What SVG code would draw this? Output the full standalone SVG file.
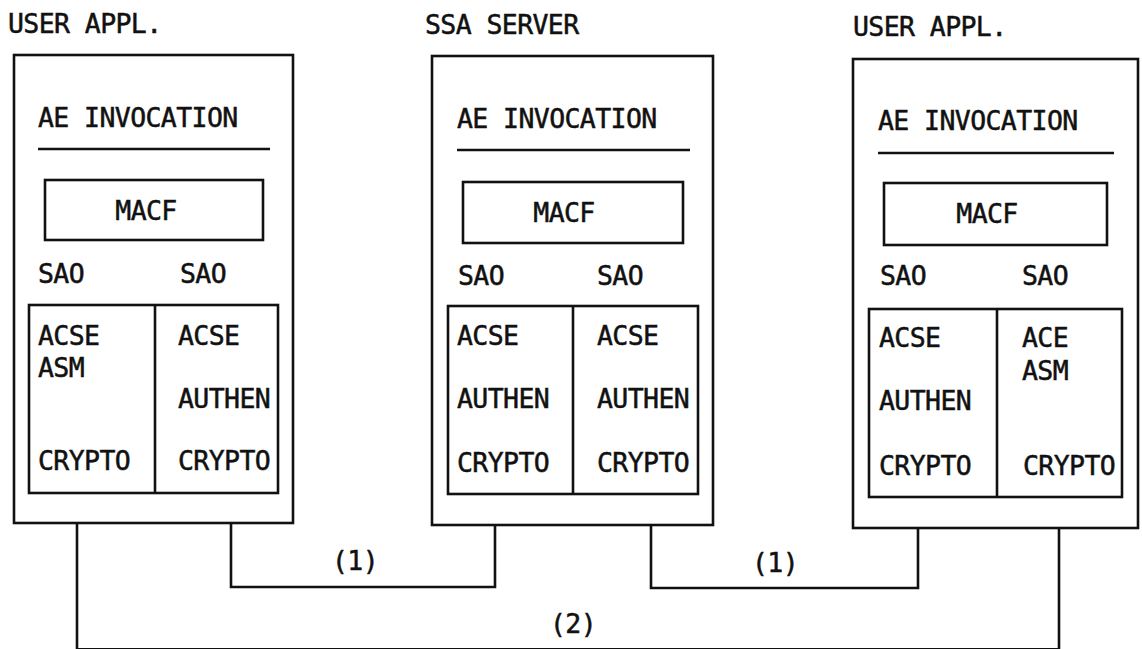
<svg xmlns="http://www.w3.org/2000/svg" width="1142" height="649" viewBox="0 0 1142 649">
  <style>
    .frame { fill: none; stroke: #111; stroke-width: 2.6; }
    .rule { stroke: #111; stroke-width: 2.6; }
    .wire { fill: none; stroke: #111; stroke-width: 2.6; }
    text { font-family: "DejaVu Sans Mono", "Liberation Mono", monospace; font-size: 26.5px; letter-spacing: -0.6px; fill: #111; stroke: #111; stroke-width: 0.5px; }
    .mid { text-anchor: middle; }
  </style>
  <rect width="1142" height="649" fill="#fff"/>

  <!-- left user application -->
  <g id="user-appl-left">
    <text x="8" y="33">USER APPL.</text>
    <rect class="frame" x="14" y="55" width="279" height="468"/>
    <text x="38" y="127">AE INVOCATION</text>
    <line class="rule" x1="38" y1="149" x2="270" y2="149"/>
    <rect class="frame" x="45" y="180" width="218" height="60"/>
    <text class="mid" x="146" y="220">MACF</text>
    <text x="38" y="283">SAO</text>
    <text x="180" y="283">SAO</text>
    <rect class="frame" x="29" y="305" width="249" height="188"/>
    <line class="rule" x1="155" y1="305" x2="155" y2="493"/>
    <text x="38" y="345">ACSE</text>
    <text x="38" y="377">ASM</text>
    <text x="38" y="470">CRYPTO</text>
    <text x="178" y="345">ACSE</text>
    <text x="178" y="408">AUTHEN</text>
    <text x="178" y="470">CRYPTO</text>
  </g>

  <!-- security server -->
  <g id="ssa-server">
    <text x="425" y="34">SSA SERVER</text>
    <rect class="frame" x="432" y="56" width="281" height="469"/>
    <text x="457" y="128">AE INVOCATION</text>
    <line class="rule" x1="457" y1="150" x2="690" y2="150"/>
    <rect class="frame" x="463" y="182" width="220" height="61"/>
    <text class="mid" x="564" y="222">MACF</text>
    <text x="458" y="285">SAO</text>
    <text x="597" y="285">SAO</text>
    <rect class="frame" x="448" y="306" width="250" height="188"/>
    <line class="rule" x1="573" y1="306" x2="573" y2="494"/>
    <text x="457" y="345">ACSE</text>
    <text x="457" y="408">AUTHEN</text>
    <text x="457" y="472">CRYPTO</text>
    <text x="597" y="345">ACSE</text>
    <text x="597" y="408">AUTHEN</text>
    <text x="597" y="472">CRYPTO</text>
  </g>

  <!-- right user application -->
  <g id="user-appl-right">
    <text x="853" y="36">USER APPL.</text>
    <rect class="frame" x="853" y="59" width="285" height="469"/>
    <text x="878" y="130">AE INVOCATION</text>
    <line class="rule" x1="878" y1="153" x2="1114" y2="153"/>
    <rect class="frame" x="884" y="183" width="223" height="62"/>
    <text class="mid" x="987" y="223">MACF</text>
    <text x="880" y="285">SAO</text>
    <text x="1022" y="285">SAO</text>
    <rect class="frame" x="869" y="309" width="253" height="188"/>
    <line class="rule" x1="997" y1="309" x2="997" y2="497"/>
    <text x="879" y="347">ACSE</text>
    <text x="879" y="410">AUTHEN</text>
    <text x="879" y="475">CRYPTO</text>
    <text x="1022" y="347">ACE</text>
    <text x="1022" y="380">ASM</text>
    <text x="1023" y="475">CRYPTO</text>
  </g>

  <!-- associations between the applications -->
  <g id="connectors">
    <polyline class="wire" points="231,523 231,587 495,587 495,525"/>
    <polyline class="wire" points="651,525 651,588 918,588 918,528"/>
    <polyline class="wire" points="77,523 77,649.2 1059,649.2 1059,528"/>
    <text class="mid" x="355" y="570">(1)</text>
    <text class="mid" x="775" y="572">(1)</text>
    <text class="mid" x="573" y="633">(2)</text>
  </g>
</svg>
